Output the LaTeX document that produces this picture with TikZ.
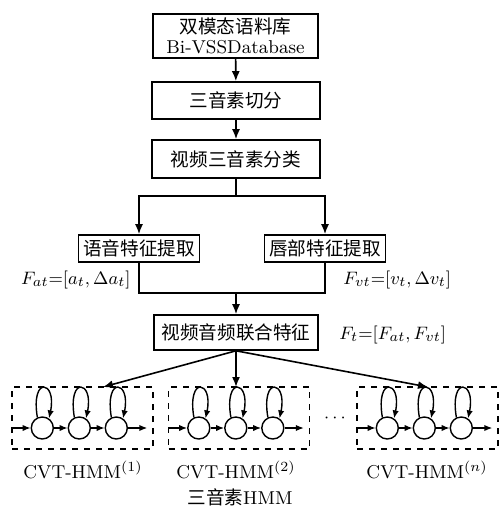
\documentclass[tikz,border=0pt]{standalone}
\usepackage{fontspec}
\newfontfamily\cjk{Noto Sans CJK SC}
\usetikzlibrary{arrows.meta,calc}
\begin{document}
\begin{tikzpicture}[x=0.5pt,y=-0.5pt,
  font=\fontsize{9.3}{11}\selectfont,
  box/.style={draw,line width=0.8pt,inner sep=0pt,align=center},
  hbox/.style={draw,dashed,line width=0.7pt,minimum width=70.5pt,minimum height=31pt,inner sep=0pt},
  st/.style={draw,circle,line width=0.7pt,minimum size=11pt,inner sep=0pt},
  arr/.style={line width=0.8pt,-{Latex[length=5pt,width=4pt]}},
  ln/.style={line width=0.8pt},
  sarr/.style={line width=0.7pt,-{Latex[length=4pt,width=3.2pt]}},
  lbl/.style={inner sep=0pt}]
\useasboundingbox (0,0) rectangle (500,507);
\node[box,minimum width=82.5pt,minimum height=22pt] (db) at (235.5,36) {{\cjk 双模态语料库}\\[-1pt]Bi-VSSDatabase};
\node[box,minimum width=84pt,minimum height=18.5pt] (seg) at (236,100.5) {\cjk 三音素切分};
\node[box,minimum width=84pt,minimum height=19pt] (cls) at (236,159) {\cjk 视频三音素分类};
\node[box,minimum width=60.5pt,minimum height=13.5pt] (aud) at (139,248.5) {\cjk 语音特征提取};
\node[box,minimum width=60.5pt,minimum height=13.5pt] (lip) at (325,248.5) {\cjk 唇部特征提取};
\node[box,minimum width=82pt,minimum height=17.5pt] (fus) at (236,332.5) {\cjk 视频音频联合特征};
\coordinate (split) at (236,196);
\coordinate (join) at (236,293);
\draw[arr] (db) -- (seg);
\draw[arr] (seg) -- (cls);
\draw[ln] (cls.south) -- (split);
\draw[arr] (split) -| (aud.north);
\draw[arr] (split) -| (lip.north);
\draw[ln] (aud.south) |- (join) -| (lip.south);
\draw[arr] (join) -- (fus.north);
\node[lbl,anchor=east] (fa) at (131,280) {$F_{at}{=}[a_t,\Delta a_t]$};
\node[lbl,anchor=west] (fv) at (343,280) {$F_{vt}{=}[v_t,\Delta v_t]$};
\node[lbl,anchor=west] (ft) at (339,335) {$F_{t}{=}[F_{at},F_{vt}]$};
% HMM boxes
\foreach \n/\cx in {h1/82.5,h2/239,h3/427.5}{
  \node[hbox] (\n) at (\cx,418) {};
  \node[st] (\n a) at ($(\n.west)+(31,10)$) {};
  \node[st] (\n b) at ($(\n.west)+(68,10)$) {};
  \node[st] (\n c) at ($(\n.west)+(105,10)$) {};
  \coordinate (\n in) at ($(\n.west)+(1,10)$);
  \coordinate (\n out) at ($(\n.west)+(136,10)$);
  \draw[sarr] (\n in) -- (\n a);
  \draw[sarr] (\n a) -- (\n b);
  \draw[sarr] (\n b) -- (\n c);
  \draw[sarr] (\n c) -- (\n out);
  \foreach \s in {a,b,c}{
    \draw[sarr] (\n\s.115) .. controls +(-7,-42) and +(8,-38) .. (\n\s.55);
  }
}
\draw[arr] (fus.south) -- (103,387);
\draw[arr] (fus.south) -- (236,387);
\draw[arr] (fus.south) -- (428,387);
\node[lbl] (dots) at (335,418) {$\cdots$};
\node[lbl] (l1) at (83,470) {CVT-HMM$^{(1)}$};
\node[lbl] (l2) at (236,470) {CVT-HMM$^{(2)}$};
\node[lbl] (l3) at (427,470) {CVT-HMM$^{(n)}$};
\node[lbl] (l4) at (240,497) {{\cjk 三音素}HMM};
\end{tikzpicture}
\end{document}
